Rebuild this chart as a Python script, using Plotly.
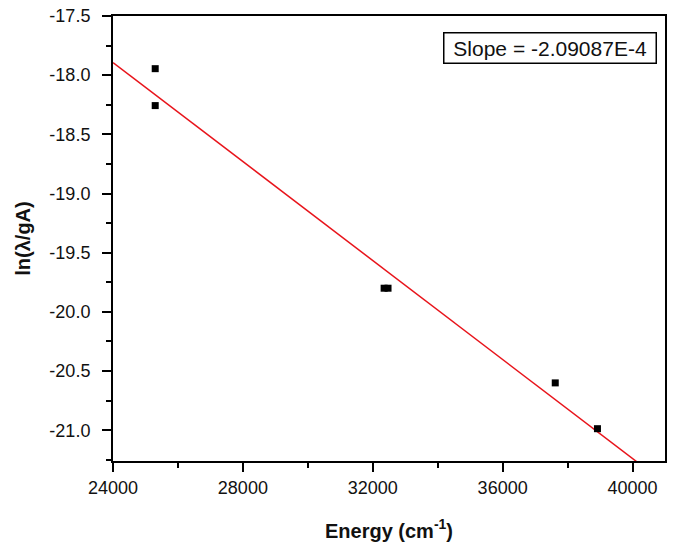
import numpy as np
import plotly.graph_objects as go

# Data
energy = [25300, 25300, 32350, 32470, 37620, 38920]
ln_lambda_gA = [-17.945, -18.257, -19.80, -19.80, -20.60, -20.987]
slope = -2.09087e-4
slope_label = "\u00a0Slope = -2.09087E-4\u00a0"
x_range = [24000, 41000]
y_range = [-21.26, -17.5]
x_ticks = [24000, 28000, 32000, 36000, 40000]
x_ticktext = ["24000", "28000", "32000", "36000", "40000"]
y_ticks = [-17.5, -18.0, -18.5, -19.0, -19.5, -20.0, -20.5, -21.0]
y_ticktext = ["-17.5", "-18.0", "-18.5", "-19.0", "-19.5", "-20.0", "-20.5", "-21.0"]

xm = np.mean(energy)
ym = np.mean(ln_lambda_gA)
intercept = ym - slope * xm
fit_x = np.array(x_range, dtype=float)
fit_y = intercept + slope * fit_x

font = "Liberation Sans, Arial, sans-serif"

fig = go.Figure()
fig.add_trace(go.Scatter(x=fit_x, y=fit_y, mode="lines",
                         line=dict(color="#e8141b", width=1.5), showlegend=False,
                         cliponaxis=True))
fig.add_trace(go.Scatter(x=energy, y=ln_lambda_gA, mode="markers",
                         marker=dict(symbol="square", size=7, color="black"),
                         showlegend=False))

axis_common = dict(showgrid=False, zeroline=False, showline=True, linecolor="black",
                   linewidth=2, mirror=True, ticks="outside", ticklen=9, tickwidth=2,
                   tickcolor="black", automargin=False,
                   tickfont=dict(family=font, size=18, color="#111"))

fig.update_xaxes(range=x_range, tickvals=x_ticks, ticktext=x_ticktext,
                 minor=dict(dtick=2000, tick0=24000, ticks="outside", ticklen=5, tickwidth=2, tickcolor="black"),
                 title=dict(text="<b>Energy (cm<sup>-1</sup>)</b>", font=dict(family=font, size=20, color="#111"),
                            standoff=27),
                 ticklabelstandoff=0,
                 **axis_common)
fig.update_yaxes(range=y_range, tickvals=y_ticks, ticktext=y_ticktext,
                 minor=dict(dtick=0.25, tick0=-17.5, ticks="outside", ticklen=5, tickwidth=2, tickcolor="black"),
                 title=dict(text="<b>ln(λ/gA)</b>", font=dict(family=font, size=20, color="#111"),
                            standoff=13),
                 ticklabelstandoff=8,
                 **axis_common)

fig.add_annotation(xref="paper", yref="paper", x=0.9855, y=0.964, xanchor="right", yanchor="top",
                   text=slope_label, showarrow=False,
                   font=dict(family=font, size=21, color="#111"),
                   bordercolor="black", borderwidth=1.5, borderpad=3, bgcolor="white")

fig.update_layout(width=673, height=548, margin=dict(l=113, r=8, t=16, b=87),
                  plot_bgcolor="white", paper_bgcolor="white")

fig.write_html("out.html", config={"displayModeBar": False},
               post_script="document.body.style.margin='0';")
